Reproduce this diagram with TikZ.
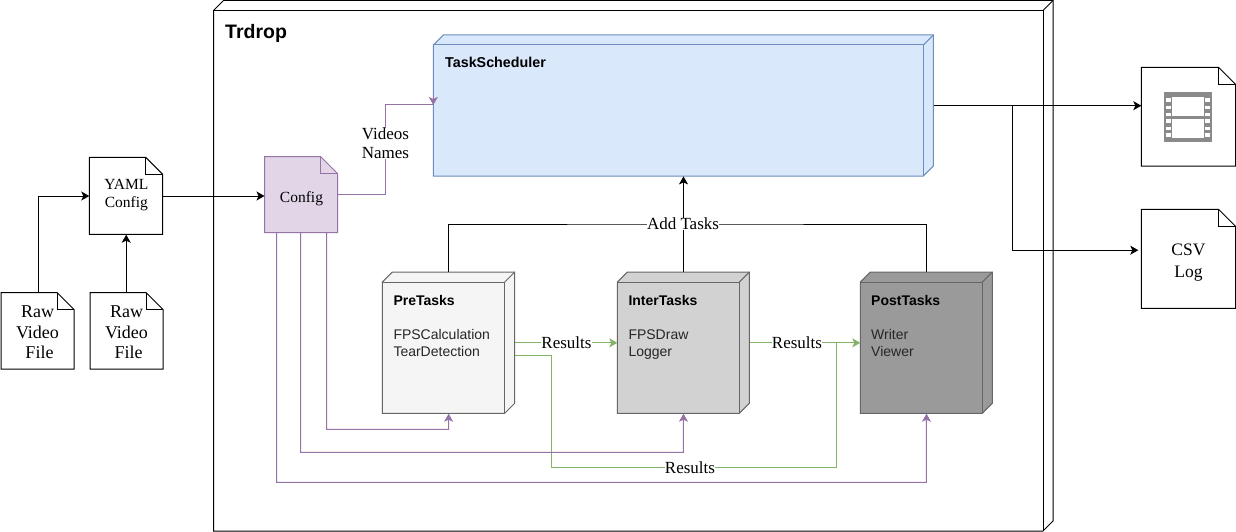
\documentclass[tikz,border=0pt]{standalone}
\usepackage{fontspec}
\setmainfont{Liberation Serif}
\setsansfont{Liberation Sans}
\usetikzlibrary{arrows.meta, calc}
\definecolor{purpleline}{HTML}{9673A6}
\definecolor{purplefill}{HTML}{E1D5E7}
\definecolor{greenline}{HTML}{82B366}
\definecolor{blueline}{HTML}{6C8EBF}
\definecolor{bluefill}{HTML}{DAE8FC}
\definecolor{greyline}{HTML}{666666}
\definecolor{prefill}{HTML}{F5F5F5}
\definecolor{interfill}{HTML}{D2D2D2}
\definecolor{postfill}{HTML}{9A9A9A}
\definecolor{bodytext}{HTML}{262626}
\definecolor{filmgrey}{HTML}{8A8A8A}
\tikzset{
    boxname/.style={inner sep=0pt, anchor=north west},
    cubetext/.style={inner sep=0pt, anchor=north west, align=left, font=\sffamily\fontsize{14}{17}\selectfont},
    filetext/.style={inner sep=0pt, align=center, font=\fontsize{15.5}{18}\selectfont},
    rawtext/.style={inner sep=0pt, align=center, font=\fontsize{18}{20.5}\selectfont},
    linklabel/.style={fill=white, inner sep=0pt, align=center, font=\fontsize{17}{19}\selectfont},
    tipline/.style={line width=1pt, -{Stealth[length=8pt,width=9pt,inset=2pt]}},
    plainline/.style={line width=1pt},
    resultline/.style={line width=1pt, draw=greenline},
    configline/.style={line width=1pt, draw=purpleline}
}
% #1 name, #2 x, #3 y, #4 width, #5 height, #6 fill, #7 line (size counts the 10pt depth)
\newcommand{\taskcube}[7]{
    \filldraw[fill=#6, draw=#7, line width=1pt] ({#2},{#3+10}) -- ({#2+10},{#3}) -- ({#2+#4},{#3}) -- ({#2+#4},{#3+#5-10})
        -- ({#2+#4-10},{#3+#5}) -- ({#2},{#3+#5}) -- cycle;
    \draw[draw=#7, line width=1pt] ({#2},{#3+10}) -- ({#2+#4-10},{#3+10}) -- ({#2+#4-10},{#3+#5});
    \draw[draw=#7, line width=1pt] ({#2+#4-10},{#3+10}) -- ({#2+#4},{#3});
    \node[boxname, minimum width=#4pt, minimum height=#5pt] (#1) at (#2,#3) {};
}
% #1 name, #2 x, #3 y, #4 width, #5 height, #6 fill, #7 line
\newcommand{\filedoc}[7]{
    \filldraw[fill=#6, draw=#7, line width=1pt] (#2,#3) -- ({#2+#4-17},#3) -- ({#2+#4},{#3+17}) -- ({#2+#4},{#3+#5}) -- (#2,{#3+#5}) -- cycle;
    \draw[draw=#7, line width=1pt] ({#2+#4-17},#3) -- ({#2+#4-17},{#3+17}) -- ({#2+#4},{#3+17});
    \node[boxname, minimum width=#4pt, minimum height=#5pt] (#1) at (#2,#3) {};
}
\begin{document}
\begin{tikzpicture}[x=1pt, y=-1pt]
    \useasboundingbox (0,0) rectangle (1236,532);

    % outer system box
    \taskcube{trdrop}{213.5}{0.5}{839.5}{530.5}{white}{black}
    \node[boxname, font=\sffamily\bfseries\fontsize{19.5}{22}\selectfont] (trdroptitle) at (225,24) {Trdrop};

    % tasks
    \taskcube{sched}{433.3}{35}{500}{141}{bluefill}{blueline}
    \node[cubetext, font=\sffamily\fontsize{14.3}{17}\selectfont] (schedtext) at (445,57) {\textbf{TaskScheduler}};
    \taskcube{pretasks}{382.3}{272}{132.4}{141.3}{prefill}{greyline}
    \node[cubetext, text=bodytext] (pretext) at (393.3,295) {\textcolor{black}{\textbf{PreTasks}}\\ \\FPSCalculation\\TearDetection};
    \taskcube{intertasks}{617.3}{272}{132}{141.3}{interfill}{greyline}
    \node[cubetext, text=bodytext] (intertext) at (628.3,295) {\textcolor{black}{\textbf{InterTasks}}\\ \\FPSDraw\\Logger};
    \taskcube{posttasks}{860.3}{272}{132}{141.3}{postfill}{greyline}
    \node[cubetext, text=bodytext] (posttext) at (871,295) {\textcolor{black}{\textbf{PostTasks}}\\ \\Writer\\Viewer};

    % files
    \filedoc{yaml}{89.3}{157.3}{73.4}{77}{white}{black}
    \node[filetext] (yamltext) at (126.3,195) {YAML\\Config};
    \filedoc{config}{264.5}{156.5}{73}{76}{purplefill}{purpleline}
    \node[filetext] (configtext) at (301.5,199) {Config};
    \filedoc{rawone}{1}{292.5}{73}{76.5}{white}{black}
    \node[rawtext] (rawonetext) at (37.5,332.5) {Raw\\Video\\\hspace*{4pt}File};
    \filedoc{rawtwo}{90}{292.5}{73}{76.5}{white}{black}
    \node[rawtext] (rawtwotext) at (126.5,332.5) {Raw\\Video\\\hspace*{4pt}File};
    \filedoc{videofile}{1141.3}{67.3}{94.2}{98.7}{white}{black}
    \filedoc{csvlog}{1141.3}{209.3}{94.2}{99}{white}{black}
    \node[rawtext, font=\fontsize{17.5}{22}\selectfont] (csvtext) at (1188.5,263) {CSV\\Log};

    % film icon
    \fill[filmgrey] (1163.5,92) rectangle (1212.3,142);
    \fill[white] (1172.3,96.7) rectangle (1203.7,115.7);
    \fill[white] (1172.3,119) rectangle (1203.7,138.3);
    \foreach \holey in {98.3,105.7,113,119.3,126.7,133.3} {
        \fill[white] (1165.7,\holey) rectangle (1170.7,{\holey+3.4});
        \fill[white] (1205.3,\holey) rectangle (1210.3,{\holey+3.4});
    }

    % inputs
    \draw[tipline] (rawone.north -| 38,0) |- (yaml.west);
    \draw[tipline] (rawtwo.north -| yaml.south) -- (yaml.south);
    \draw[tipline] (yaml.east) -- (yaml.east -| config.west);

    % config to scheduler
    \coordinate (schedin) at (433.3,105);
    \draw[configline] (config.east) -| (385.7,105) -- (schedin);
    \draw[configline, -{Stealth[length=8pt,width=9pt,inset=2pt]}] (433.3,96.5) -- (schedin);
    \node[linklabel] (videoslabel) at (385.5,143.5) {Videos\\Names};

    % outputs
    \coordinate (branch) at (1012.5,105.5);
    \coordinate (csvin) at ($(csvlog.west)+(-3,-8.8)$);
    \draw[tipline] (sched.east) -- (sched.east -| videofile.west);
    \draw[tipline] (branch) |- (csvin);

    % tasks to scheduler
    \draw[plainline] (pretasks.north) |- (683.3,224) -| (posttasks.north);
    \draw[tipline] (intertasks.north) -- (sched.south);
    \node[linklabel] (addlabel) at (683,224) {Add Tasks};

    % results
    \draw[resultline, -{Stealth[length=8pt,width=9pt,inset=2pt]}] (pretasks.east) -- (intertasks.west);
    \node[linklabel] (resultone) at (566.5,342.5) {Results};
    \draw[resultline, -{Stealth[length=8pt,width=9pt,inset=2pt]}] (intertasks.east) -- (posttasks.west);
    \node[linklabel] (resulttwo) at (797,342.5) {Results};
    \draw[resultline] ($(pretasks.east)+(0,12.6)$) -| (551.3,467.3) -| (836.3,342.7);
    \node[linklabel] (resultthree) at (690,467.3) {Results};

    % config to tasks
    \draw[configline, -{Stealth[length=8pt,width=9pt,inset=2pt]}] ($(config.south)+(25.3,0)$) |- (448.5,429.3) -- (pretasks.south);
    \draw[configline, -{Stealth[length=8pt,width=9pt,inset=2pt]}] ($(config.south)+(-0.7,0)$) |- (683.3,452.3) -- (intertasks.south);
    \draw[configline, -{Stealth[length=8pt,width=9pt,inset=2pt]}] ($(config.south)+(-24.7,0)$) |- (926.3,482.3) -- (posttasks.south);
\end{tikzpicture}
\end{document}
